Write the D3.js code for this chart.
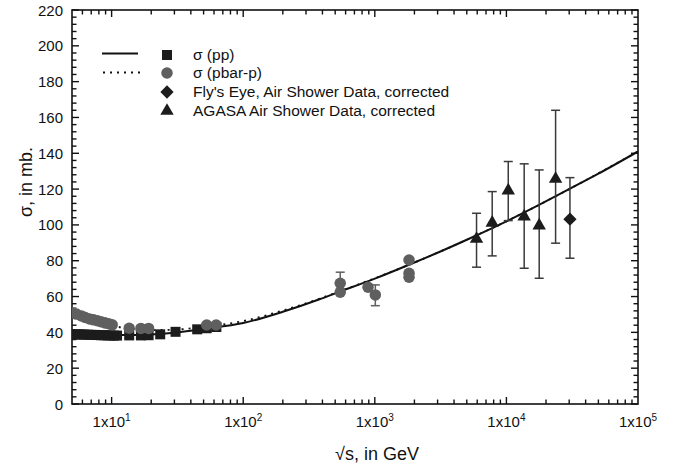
<!DOCTYPE html>
<html><head><meta charset="utf-8">
<script src="https://cdn.jsdelivr.net/npm/d3@7"></script>
<style>
html,body{margin:0;padding:0;background:#fff;}
svg{display:block;font-family:"Liberation Sans",Arial,Helvetica,sans-serif;}
</style></head>
<body>
<svg id="chart" width="680" height="468"></svg>
<script>
// ---- data ----
const fitEnergy = [5,7,10,15,20,30,50,100,200,380,500,1000,2000,3120,5000,10000,18000,30000,50000,100000];
const fitPP     = [39.6,38.9,38.5,38.5,38.8,39.8,41.9,45.2,51.5,58.5,61.8,70,79,85,91.7,102,111.5,120,128.6,141];
const fitPbarEnergy = [5,7,10,11,13.6,20,30,50,100,200,380,500,1000,2000,5000,10000,30000,100000];
const fitPbar       = [51,47,44,43.2,42.2,41.3,41.5,43.2,46.3,52.2,58.8,62,70.2,79,91.7,102,120,141];

const ppEnergy = [5.0,5.3,5.6,5.9,6.2,6.6,7.0,7.4,7.8,8.3,8.8,9.3,9.8,10.4,11.0,13.6,16.7,19.1,23.4,30.6,44.7,52.8,62.5];
const ppSigma  = [39.0,38.9,38.9,38.8,38.8,38.7,38.6,38.6,38.5,38.4,38.4,38.3,38.3,38.2,38.2,38.3,38.3,38.4,38.9,40.3,41.7,42.3,43.0];

const pbarEnergy = [5.0,5.4,5.9,6.3,6.8,7.3,7.8,8.3,8.9,9.5,10.1,13.6,16.7,19.1,52.8,62.3,546,546,888,1009,1820,1820,1820];
const pbarSigma  = [50.8,50.2,49.2,48.3,47.5,47.0,46.5,45.9,45.3,44.8,44.2,42.3,42.2,42.2,44.1,44.1,67.4,62.4,65.2,60.9,80.4,73.0,70.8];
const pbarErrEnergy = [5.0,546,1009];
const pbarErrLow    = [50.8,67.4,54.9];
const pbarErrHigh   = [53.6,73.6,66.5];

const flyEnergy = [30400];
const flySigma  = [103.2];
const flyLow    = [81.4];
const flyHigh   = [126.4];

const agasaEnergy = [5930,7800,10330,13650,17750,23650];
const agasaSigma  = [91.6,100.6,118.6,104.1,99.1,125.1];
const agasaLow    = [76.4,82.7,102.4,75.8,70.2,89.8];
const agasaHigh   = [106.5,118.6,135.4,134.1,130.7,164.0];

const yTicks = [0,20,40,60,80,100,120,140,160,180,200,220];
const xTicks = [10,100,1000,10000,100000];
const xTickExp = ["1","2","3","4","5"];

const legendLabels = ["σ (pp)","σ (pbar-p)","Fly's Eye, Air Shower Data, corrected","AGASA Air Shower Data, corrected"];

// ---- layout ----
const svg = d3.select("#chart");
const L = 72, R = 638, T = 10, B = 404;
const x = d3.scaleLog().domain([5,100000]).range([L,R]);
const y = d3.scaleLinear().domain([0,220]).range([B,T]);
const dark = "#1c1c1c", grey = "#5f5f5f", errC = "#3a3a3a";

// frame
svg.append("rect").attr("x",L).attr("y",T).attr("width",R-L).attr("height",B-T)
  .attr("fill","none").attr("stroke","#111").attr("stroke-width",1.6);

// ticks
const minorX = [];
for (let d=1; d<=4; d++) for (let m=1; m<=9; m++) { const v=m*Math.pow(10,d); if(v>5 && v<100000) minorX.push(v);}
[6,7,8,9].forEach(v=>minorX.push(v));
const tickG = svg.append("g").attr("stroke","#111").attr("stroke-width",1.4);
minorX.forEach(v=>{
  const major = xTicks.includes(v);
  const len = major?7:4.5;
  tickG.append("line").attr("x1",x(v)).attr("x2",x(v)).attr("y1",B).attr("y2",B-len);
  tickG.append("line").attr("x1",x(v)).attr("x2",x(v)).attr("y1",T).attr("y2",T+len);
});
d3.range(0,221,4).forEach(v=>{
  const major = v%20===0;
  const len = major?7:4.5;
  tickG.append("line").attr("y1",y(v)).attr("y2",y(v)).attr("x1",L).attr("x2",L+len);
  tickG.append("line").attr("y1",y(v)).attr("y2",y(v)).attr("x1",R).attr("x2",R-len);
});

// y tick labels
svg.append("g").selectAll("text").data(yTicks).join("text")
  .attr("x",L-9).attr("y",d=>y(d)+5.5).attr("text-anchor","end")
  .attr("font-size",15).attr("fill","#111").text(d=>d);

// x tick labels
const xl = svg.append("g").selectAll("text").data(xTicks).join("text")
  .attr("x",d=>x(d)).attr("y",427).attr("text-anchor","middle")
  .attr("font-size",15).attr("fill","#111");
xl.append("tspan").text("1x10");
xl.append("tspan").attr("dy",-6).attr("font-size",10).text((d,i)=>xTickExp[i]);

// axis titles
svg.append("text").attr("x",377).attr("y",460).attr("text-anchor","middle")
  .attr("font-size",18).attr("fill","#111").text("√s, in GeV");
svg.append("text").attr("transform","translate(32,182) rotate(-90)").attr("text-anchor","middle")
  .attr("font-size",18).attr("fill","#111").text("σ, in mb.");

// clip
svg.append("clipPath").attr("id","clip").append("rect").attr("x",L).attr("y",T).attr("width",R-L).attr("height",B-T);
const plot = svg.append("g").attr("clip-path","url(#clip)");

// curves
const line = d3.line().x(d=>x(d[0])).y(d=>y(d[1])).curve(d3.curveMonotoneX);
plot.append("path").attr("d",line(fitPbarEnergy.map((e,i)=>[e,fitPbar[i]])))
  .attr("fill","none").attr("stroke","#111").attr("stroke-width",1.8).attr("stroke-dasharray","2,5");
plot.append("path").attr("d",line(fitEnergy.map((e,i)=>[e,fitPP[i]])))
  .attr("fill","none").attr("stroke","#111").attr("stroke-width",2);

// error bars helper
function errBar(g, e, lo, hi, color, cap){
  g.append("line").attr("x1",x(e)).attr("x2",x(e)).attr("y1",y(lo)).attr("y2",y(hi)).attr("stroke",color).attr("stroke-width",1.5);
  g.append("line").attr("x1",x(e)-cap).attr("x2",x(e)+cap).attr("y1",y(hi)).attr("y2",y(hi)).attr("stroke",color).attr("stroke-width",1.5);
  g.append("line").attr("x1",x(e)-cap).attr("x2",x(e)+cap).attr("y1",y(lo)).attr("y2",y(lo)).attr("stroke",color).attr("stroke-width",1.5);
}
const eg = plot.append("g");
pbarErrEnergy.forEach((e,i)=>errBar(eg,e,pbarErrLow[i],pbarErrHigh[i],grey,4.5));
agasaEnergy.forEach((e,i)=>errBar(eg,e,agasaLow[i],agasaHigh[i],errC,4.5));
flyEnergy.forEach((e,i)=>errBar(eg,e,flyLow[i],flyHigh[i],errC,4.5));

// markers
const sq = d3.symbol().type(d3.symbolSquare).size(100);
const ci = d3.symbol().type(d3.symbolCircle).size(104);
const tri = d3.symbol().type(d3.symbolTriangle).size(78);
const dia = d3.symbol().type(d3.symbolSquare).size(88);

plot.append("g").selectAll("path").data(ppEnergy.map((e,i)=>[e,ppSigma[i]])).join("path")
  .attr("d",sq).attr("transform",d=>`translate(${x(d[0])},${y(d[1])})`).attr("fill",dark);
plot.append("g").selectAll("path").data(pbarEnergy.map((e,i)=>[e,pbarSigma[i]])).join("path")
  .attr("d",ci).attr("transform",d=>`translate(${x(d[0])},${y(d[1])})`).attr("fill",grey);
plot.append("g").selectAll("path").data(agasaEnergy.map((e,i)=>[e,agasaSigma[i]])).join("path")
  .attr("d",tri).attr("transform",d=>`translate(${x(d[0])},${y(d[1])-1})`).attr("fill",dark);
plot.append("g").selectAll("path").data(flyEnergy.map((e,i)=>[e,flySigma[i]])).join("path")
  .attr("d",dia).attr("transform",d=>`translate(${x(d[0])},${y(d[1])}) rotate(45)`).attr("fill",dark);

// legend
const lg = svg.append("g");
lg.append("line").attr("x1",102).attr("x2",138).attr("y1",53.5).attr("y2",53.5).attr("stroke","#111").attr("stroke-width",1.8);
lg.append("line").attr("x1",103).attr("x2",140).attr("y1",72.5).attr("y2",72.5).attr("stroke","#111").attr("stroke-width",1.8).attr("stroke-dasharray","2,5");
const legY = [55,73,92,111];
const legSym = [[sq,0],[ci,0],[dia,45],[tri,0]];
const legCol = [dark,grey,dark,dark];
legendLabels.forEach((t,i)=>{
  lg.append("path").attr("d",legSym[i][0]).attr("fill",legCol[i])
    .attr("transform",`translate(167,${legY[i]}) rotate(${legSym[i][1]})`);
  lg.append("text").attr("x",193).attr("y",legY[i]+5).attr("font-size",15.5).attr("fill","#111").text(t);
});
</script>
</body></html>
